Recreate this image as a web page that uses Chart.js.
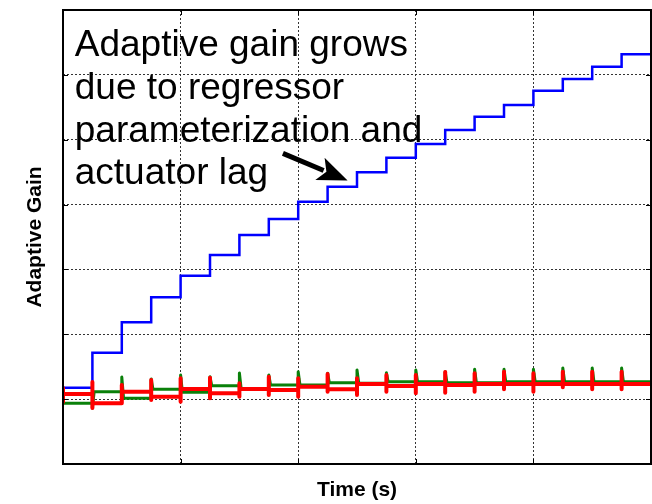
<!DOCTYPE html>
<html>
<head>
<meta charset="utf-8">
<script src="https://cdn.jsdelivr.net/npm/chart.js@4/dist/chart.umd.min.js"></script>
<style>
  body { margin: 0; background: #fff; }
  canvas { display: block; }
</style>
</head>
<body>
<canvas id="gain-chart" width="652" height="504"></canvas>
<script>
// switching instants (s) and gain level held after each one
const stepTimes = [0, 0.25, 0.5, 0.75, 1.0, 1.25, 1.5, 1.75, 2.0, 2.25, 2.5, 2.75, 3.0, 3.25, 3.5, 3.75, 4.0, 4.25, 4.5, 4.75];
const blueGain = [1.176, 1.716, 2.185, 2.570, 2.903, 3.222, 3.531, 3.778, 4.044, 4.276, 4.498, 4.723, 4.934, 5.150, 5.355, 5.535, 5.756, 5.936, 6.126, 6.317];
const greenGain = [0.936, 1.115, 1.013, 1.152, 1.106, 1.207, 1.156, 1.218, 1.218, 1.254, 1.244, 1.269, 1.269, 1.254, 1.254, 1.269, 1.269, 1.269, 1.269, 1.269];
const greenSpike = [null, 0.863, 1.341, 1.311, 1.372, 1.346, 1.403, 1.372, 1.423, 1.398, 1.449, 1.408, 1.449, 1.423, 1.460, 1.460, 1.460, 1.480, 1.480, 1.480];
const redGain = [1.079, 0.936, 1.115, 1.038, 1.156, 1.090, 1.156, 1.141, 1.192, 1.152, 1.233, 1.203, 1.233, 1.218, 1.233, 1.233, 1.233, 1.233, 1.233, 1.233];
const redSpikeHigh = [1.172, 1.264, 1.218, 1.295, 1.321, 1.331, 1.244, 1.346, 1.321, 1.388, 1.321, 1.372, 1.372, 1.418, 1.398, 1.423, 1.398, 1.423, 1.423, 1.423];
const redSpikeLow = [0.956, 0.863, 0.940, 0.987, 0.961, 1.013, 1.038, 1.064, 1.038, 1.115, 1.064, 1.115, 1.090, 1.099, 1.115, 1.152, 1.115, 1.183, 1.152, 1.152];
const tEnd = 5;

const noteLines = ["Adaptive gain grows", "due to regressor", "parameterization and", "actuator lag"];
const FONT = "'Liberation Sans', Arial, sans-serif";

function bluePoints() {
    const pts = stepTimes.map((t, i) => ({ x: t, y: blueGain[i] }));
    pts.push({ x: tEnd, y: blueGain[blueGain.length - 1] });
    return pts;
}

function greenPoints() {
    const pts = [{ x: 0, y: greenGain[0] }];
    for (let i = 1; i < stepTimes.length; i++) {
        const t = stepTimes[i];
        pts.push({ x: t, y: greenGain[i - 1] });
        pts.push({ x: t, y: greenSpike[i] });
        pts.push({ x: t + 0.015, y: greenGain[i] });
    }
    pts.push({ x: tEnd, y: greenGain[greenGain.length - 1] });
    return pts;
}

function redPoints() {
    const pts = [];
    for (let i = 0; i < stepTimes.length; i++) {
        const t = stepTimes[i];
        if (i > 0) pts.push({ x: t, y: redGain[i - 1] });
        pts.push({ x: t, y: redSpikeHigh[i] });
        pts.push({ x: t, y: redSpikeLow[i] });
        pts.push({ x: t, y: redGain[i] });
    }
    pts.push({ x: tEnd, y: redGain[redGain.length - 1] });
    return pts;
}

// frame, inward ticks, axis titles, note and arrow
const decorations = {
    id: "decorations",
    afterDraw(chart) {
        const ctx = chart.ctx;
        const a = chart.chartArea;
        const xs = chart.scales.x, ys = chart.scales.y;
        ctx.save();

        ctx.strokeStyle = "#000";
        ctx.lineWidth = 1;
        ctx.beginPath();
        for (let v = 1; v < 5; v++) {
            const px = Math.round(xs.getPixelForValue(v)) + 0.5;
            ctx.moveTo(px, a.bottom); ctx.lineTo(px, a.bottom - 5);
            ctx.moveTo(px, a.top); ctx.lineTo(px, a.top + 5);
        }
        for (let v = 1; v < 7; v++) {
            const py = Math.round(ys.getPixelForValue(v)) + 0.5;
            ctx.moveTo(a.left, py); ctx.lineTo(a.left + 5, py);
            ctx.moveTo(a.right, py); ctx.lineTo(a.right - 5, py);
        }
        ctx.stroke();

        ctx.lineWidth = 2;
        ctx.strokeRect(a.left, a.top, a.right - a.left, a.bottom - a.top);

        ctx.fillStyle = "#000";
        ctx.font = "bold 21px " + FONT;
        ctx.textAlign = "center";
        ctx.textBaseline = "middle";
        ctx.fillText("Time (s)", (a.left + a.right) / 2, 490);
        ctx.save();
        ctx.translate(35, (a.top + a.bottom) / 2);
        ctx.rotate(-Math.PI / 2);
        ctx.fillText("Adaptive Gain", 0, 0);
        ctx.restore();

        ctx.font = "37px " + FONT;
        ctx.textAlign = "left";
        ctx.textBaseline = "alphabetic";
        const tx = xs.getPixelForValue(0.1);
        noteLines.forEach((line, i) => {
            ctx.fillText(line, tx, ys.getPixelForValue(6.29 - i * 0.66));
        });

        const x0 = xs.getPixelForValue(1.87), y0 = ys.getPixelForValue(4.79);
        const x1 = xs.getPixelForValue(2.42), y1 = ys.getPixelForValue(4.37);
        const ang = Math.atan2(y1 - y0, x1 - x0);
        const headLen = 30, headW = 12;
        const bx = x1 - headLen * Math.cos(ang), by = y1 - headLen * Math.sin(ang);
        ctx.lineWidth = 5;
        ctx.beginPath();
        ctx.moveTo(x0, y0);
        ctx.lineTo(bx + 4 * Math.cos(ang), by + 4 * Math.sin(ang));
        ctx.stroke();
        ctx.beginPath();
        ctx.moveTo(x1, y1);
        ctx.lineTo(bx - headW * Math.sin(ang), by + headW * Math.cos(ang));
        ctx.lineTo(bx + 7 * Math.cos(ang), by + 7 * Math.sin(ang));
        ctx.lineTo(bx + headW * Math.sin(ang), by - headW * Math.cos(ang));
        ctx.closePath();
        ctx.fill();

        ctx.restore();
    }
};

const gridOpts = { color: "#333", lineWidth: 1, drawTicks: false };

new Chart(document.getElementById("gain-chart").getContext("2d"), {
    type: "line",
    data: {
        datasets: [
            { label: "red", data: redPoints(), borderColor: "#ff0000", borderWidth: 4, borderJoinStyle: "round" },
            { label: "green", data: greenPoints(), borderColor: "#0a800a", borderWidth: 3, borderJoinStyle: "round" },
            { label: "blue", data: bluePoints(), borderColor: "#0000ff", borderWidth: 2.5, stepped: true }
        ]
    },
    options: {
        responsive: false,
        animation: false,
        layout: { padding: { left: 63, top: 10, right: 1, bottom: 40 } },
        elements: { point: { radius: 0 }, line: { tension: 0, fill: false } },
        plugins: { legend: { display: false }, tooltip: { enabled: false } },
        scales: {
            x: {
                type: "linear", min: 0, max: tEnd,
                ticks: { display: false, stepSize: 1 },
                grid: gridOpts,
                border: { display: false, dash: [2, 2] }
            },
            y: {
                type: "linear", min: 0, max: 7,
                ticks: { display: false, stepSize: 1 },
                grid: gridOpts,
                border: { display: false, dash: [2, 2] }
            }
        }
    },
    plugins: [decorations]
});
</script>
</body>
</html>
